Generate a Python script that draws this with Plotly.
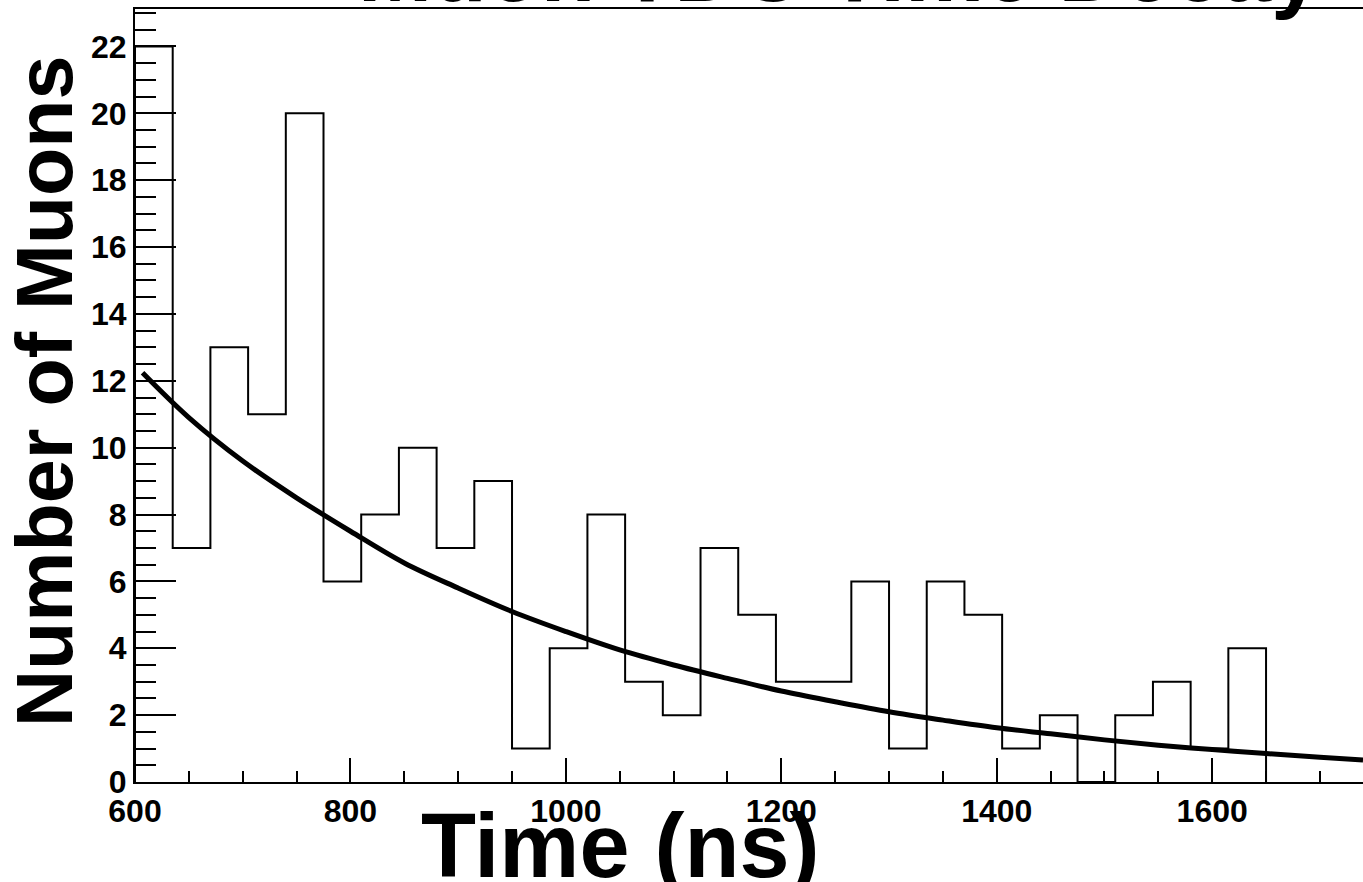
import plotly.graph_objects as go

# ---- data ----
bin_edges = [600, 635, 670, 705, 740, 775, 810, 845, 880, 915, 950, 985, 1020, 1055,
             1090, 1125, 1160, 1195, 1230, 1265, 1300, 1335, 1370, 1405, 1440, 1475,
             1510, 1545, 1580, 1615, 1650]
counts = [22, 7, 13, 11, 20, 6, 8, 10, 7, 9, 1, 4, 8, 3, 2, 7, 5, 3, 3, 6, 1, 6, 5, 1,
          2, 0, 2, 3, 1, 4]

fit_t = [607, 650, 700, 750, 800, 850, 900, 950, 1000, 1050, 1100, 1150, 1200, 1250,
         1300, 1350, 1400, 1450, 1500, 1550, 1600, 1650, 1700, 1740]
fit_n = [12.24, 10.9, 9.6, 8.5, 7.5, 6.55, 5.8, 5.1, 4.5, 3.95, 3.5, 3.1, 2.72, 2.4,
         2.1, 1.85, 1.62, 1.44, 1.26, 1.1, 0.97, 0.85, 0.74, 0.66]

title_text = "Muon TDC Time Decay"
x_title = "Time (ns)"
y_title = "Number of Muons"

# outline of histogram
hx = [bin_edges[0]]
hy = [0]
for i, c in enumerate(counts):
    hx += [bin_edges[i], bin_edges[i + 1]]
    hy += [c, c]
hx.append(bin_edges[-1])
hy.append(0)

FONT = "Liberation Sans, Arial, Helvetica, sans-serif"

fig = go.Figure()
fig.add_trace(go.Scatter(x=hx, y=hy, mode="lines",
                         line=dict(color="black", width=2), hoverinfo="skip"))
fig.add_trace(go.Scatter(x=fit_t, y=fit_n, mode="lines",
                         line=dict(color="black", width=5, shape="spline"),
                         hoverinfo="skip"))

W, H = 1363, 882
ml, mr, mt, mb = 135, 0, 9, 100
pw, ph = W - ml - mr, H - mt - mb

def px_to_paper(xp, yp):
    return (xp - ml) / pw, 1 - (yp - mt) / ph

tx, ty = px_to_paper(839, -30)
xx, xy = px_to_paper(620, 846)
yx, yy = px_to_paper(45, 392)

fig.update_layout(
    width=W, height=H,
    margin=dict(l=ml, r=mr, t=mt, b=mb, autoexpand=False),
    paper_bgcolor="white", plot_bgcolor="white",
    showlegend=False,
    font=dict(family=FONT, color="black"),
    xaxis=dict(range=[600, 1740], showgrid=False, zeroline=False, automargin=False,
               showline=True, linecolor="black", linewidth=2, mirror=True,
               ticks="inside", ticklen=24, tickwidth=2, tickcolor="black",
               tick0=0, dtick=200,
               minor=dict(ticks="inside", ticklen=11, tickwidth=2,
                          tickcolor="black", dtick=50, tick0=0),
               tickfont=dict(size=32, family=FONT, weight="bold", color="black")),
    yaxis=dict(range=[0, 23.12], showgrid=False, zeroline=False, automargin=False,
               showline=True, linecolor="black", linewidth=2,
               ticks="inside", ticklen=41, tickwidth=2, tickcolor="black",
               tick0=0, dtick=2,
               minor=dict(ticks="inside", ticklen=21, tickwidth=2,
                          tickcolor="black", dtick=0.5, tick0=0),
               tickfont=dict(size=32, family=FONT, weight="bold", color="black")),
    annotations=[
        dict(text=title_text, x=tx, y=ty, xref="paper", yref="paper",
             xanchor="center", yanchor="middle", showarrow=False,
             font=dict(size=89, family=FONT, weight="bold", color="black")),
        dict(text=x_title, x=xx, y=xy, xref="paper", yref="paper",
             xanchor="center", yanchor="middle", showarrow=False,
             font=dict(size=90, family=FONT, weight="bold", color="black")),
        dict(text=y_title, x=yx, y=yy, xref="paper", yref="paper",
             xanchor="center", yanchor="middle", showarrow=False, textangle=-90,
             font=dict(size=79, family=FONT, weight="bold", color="black")),
    ],
)

fig.write_html("out.html",
               config={"displayModeBar": False, "staticPlot": True},
               post_script="document.body.style.margin='0';document.body.style.overflow='hidden';")
